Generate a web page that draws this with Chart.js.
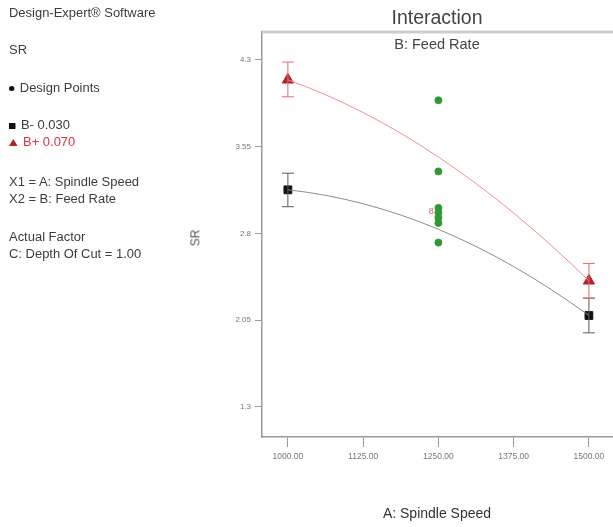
<!DOCTYPE html>
<html>
<head>
<meta charset="utf-8">
<script src="https://cdn.jsdelivr.net/npm/chart.js@4.4.0/dist/chart.umd.min.js"></script>
<style>
  body { margin: 0; background: #fff; font-family: "Liberation Sans", Arial, sans-serif; }
  #wrap { position: relative; width: 613px; height: 527px; overflow: hidden; }
  canvas { position: absolute; left: 0; top: 0; }
  .txt { position: absolute; color: #3c3c3c; font-size: 12px; white-space: nowrap; line-height: 14px; }
  .side { transform: scaleX(1.08); transform-origin: left center; }
  .red { color: #d0363a; }
  .mk { display: inline-block; margin-right: 5px; vertical-align: middle; }
  .ctr { transform: translateX(-50%); }
</style>
</head>
<body>
<div id="wrap">
  <canvas id="interChart" width="613" height="527"></canvas>

  <!-- side notes -->
  <div class="txt side" style="left:9px; top:6px;">Design-Expert® Software</div>
  <div class="txt side" style="left:9px; top:43px;">SR</div>
  <div class="txt side" style="left:9px; top:81px;"><span class="mk" style="width:5px;height:5px;border-radius:50%;background:#111;"></span>Design Points</div>
  <div class="txt side" style="left:9px; top:118px;"><span class="mk" style="width:6px;height:6px;background:#111;"></span>B- 0.030</div>
  <div class="txt side red" style="left:9px; top:135px;"><span class="mk" style="width:0;height:0;border-left:4px solid transparent;border-right:4px solid transparent;border-bottom:7px solid #b3242a;"></span>B+ 0.070</div>
  <div class="txt side" style="left:9px; top:175px;">X1 = A: Spindle Speed</div>
  <div class="txt side" style="left:9px; top:192px;">X2 = B: Feed Rate</div>
  <div class="txt side" style="left:9px; top:230px;">Actual Factor</div>
  <div class="txt side" style="left:9px; top:247px;">C: Depth Of Cut = 1.00</div>

  <!-- titles -->
  <div class="txt ctr" style="left:437px; top:6px; font-size:19.5px; line-height:22px; color:#444;">Interaction</div>
  <div class="txt ctr" style="left:437px; top:36px; font-size:14.5px; line-height:16px; color:#444;">B: Feed Rate</div>
  <div class="txt ctr" style="left:437px; top:505px; font-size:14px; line-height:16px; color:#333;">A: Spindle Speed</div>
  <div class="txt" style="left:187px; top:231px; font-size:12px; transform:rotate(-90deg); color:#555;">SR</div>
</div>

<script>
// spindle speed levels and axis ticks
const speedTicks = [1000, 1125, 1250, 1375, 1500];
const srTicks = [1.3, 2.05, 2.8, 3.55, 4.3];

// B- 0.030 (low feed rate)
const lowSpeeds = [1000, 1500];
const lowMeans = [3.176, 2.09];
const lowUpper = [3.32, 2.24];
const lowLower = [3.03, 1.94];
const lowCurve = [3.176, 2.835, 2.09];

// B+ 0.070 (high feed rate)
const highSpeeds = [1000, 1500];
const highMeans = [4.127, 2.39];
const highUpper = [4.28, 2.54];
const highLower = [3.98, 2.24];
const highCurve = [4.127, 3.46, 2.39];

const curveSpeeds = [1000, 1250, 1500];

// design points at the centre speed
const designSpeeds = [1250, 1250, 1250, 1250, 1250, 1250, 1250];
const designSR = [3.95, 3.335, 3.02, 2.98, 2.935, 2.89, 2.72];

const toXY = (xs, ys) => xs.map((x, i) => ({ x: x, y: ys[i] }));

// the model lines are quadratic in speed: set the bezier handles so the
// 3-point line follows the parabola through its points instead of a spline
const parabola = {
  id: "parabola",
  beforeDatasetDraw(chart, args) {
    const meta = args.meta;
    if (!chart.data.datasets[args.index].quadratic) return;
    const line = meta.dataset;
    line.updateControlPoints(chart.chartArea, "x");
    const [p0, p1, p2] = line.points;
    const h = (p2.x - p0.x) / 2;
    const s1 = (p2.y - p0.y) / (2 * h);
    const s0 = (-3 * p0.y + 4 * p1.y - p2.y) / (2 * h);
    const s2 = (p0.y - 4 * p1.y + 3 * p2.y) / (2 * h);
    p0.cp2x = p0.x + h / 3; p0.cp2y = p0.y + s0 * h / 3;
    p1.cp1x = p1.x - h / 3; p1.cp1y = p1.y - s1 * h / 3;
    p1.cp2x = p1.x + h / 3; p1.cp2y = p1.y + s1 * h / 3;
    p2.cp1x = p2.x - h / 3; p2.cp1y = p2.y - s2 * h / 3;
    line._path = undefined;
  }
};

// error bars + the framing line across the top
const extras = {
  id: "extras",
  afterDatasetsDraw(chart) {
    const { ctx, scales: { x, y }, chartArea } = chart;
    const bars = [
      { xs: lowSpeeds, hi: lowUpper, lo: lowLower, color: "#5a5a5a" },
      { xs: highSpeeds, hi: highUpper, lo: highLower, color: "#e46a6e" }
    ];
    ctx.save();
    bars.forEach(b => {
      ctx.strokeStyle = b.color;
      ctx.lineWidth = 1;
      b.xs.forEach((sp, i) => {
        const px = x.getPixelForValue(sp);
        const t = y.getPixelForValue(b.hi[i]);
        const btm = y.getPixelForValue(b.lo[i]);
        ctx.beginPath();
        ctx.moveTo(px, t); ctx.lineTo(px, btm);
        ctx.moveTo(px - 6, t); ctx.lineTo(px + 6, t);
        ctx.moveTo(px - 6, btm); ctx.lineTo(px + 6, btm);
        ctx.stroke();
      });
    });
    // replicate count next to the cluster
    ctx.fillStyle = "#e8575c";
    ctx.font = "9px 'Liberation Sans', Arial";
    ctx.textAlign = "center";
    ctx.textBaseline = "middle";
    ctx.fillText("8", x.getPixelForValue(1238), y.getPixelForValue(2.99));

    ctx.strokeStyle = "#cdcdcd";
    ctx.lineWidth = 3;
    ctx.beginPath();
    ctx.moveTo(chartArea.left, chartArea.top);
    ctx.lineTo(chartArea.right, chartArea.top);
    ctx.stroke();
    ctx.restore();
  }
};

new Chart(document.getElementById("interChart"), {
  type: "scatter",
  data: {
    datasets: [
      {
        type: "line",
        quadratic: true,
        data: toXY(curveSpeeds, highCurve),
        borderColor: "#f08e92",
        borderWidth: 1,
        pointRadius: 0,
        tension: 0.3,
        fill: false
      },
      {
        type: "line",
        quadratic: true,
        data: toXY(curveSpeeds, lowCurve),
        borderColor: "#8c8c8c",
        borderWidth: 1,
        pointRadius: 0,
        tension: 0.3,
        fill: false
      },
      {
        data: toXY(designSpeeds, designSR),
        backgroundColor: "#2f9a35",
        borderColor: "#2f9a35",
        pointRadius: 3.5
      },
      {
        data: toXY(highSpeeds, highMeans),
        pointStyle: "triangle",
        backgroundColor: "#b5232b",
        borderColor: "#b5232b",
        pointRadius: 6.5
      },
      {
        data: toXY(lowSpeeds, lowMeans),
        pointStyle: "rect",
        backgroundColor: "#111",
        borderColor: "#111",
        pointRadius: 5.5
      }
    ]
  },
  options: {
    responsive: false,
    animation: false,
    layout: { autoPadding: false, padding: { top: 32, left: 0, right: 0, bottom: 0 } },
    plugins: { legend: { display: false }, tooltip: { enabled: false } },
    scales: {
      x: {
        type: "linear",
        min: 957,
        max: 1540,
        afterFit: s => { s.height = 90; s.paddingLeft = 0; s.paddingRight = 0; },
        afterBuildTicks: s => { s.ticks = speedTicks.map(v => ({ value: v })); },
        ticks: {
          padding: 5,
          color: "#777",
          font: { size: 8.5, family: "'Liberation Sans', Arial" },
          maxRotation: 0,
          callback: v => Number(v).toFixed(2)
        },
        grid: { drawOnChartArea: false, drawTicks: true, tickLength: 10, color: "#999" },
        border: { display: true, color: "#9a9a9a", width: 1.5 }
      },
      y: {
        min: 1.04,
        max: 4.54,
        afterFit: s => { s.width = 262; },
        afterBuildTicks: s => { s.ticks = srTicks.map(v => ({ value: v })); },
        ticks: {
          padding: 4,
          color: "#777",
          font: { size: 8, family: "'Liberation Sans', Arial" },
          callback: v => String(v)
        },
        grid: { drawOnChartArea: false, drawTicks: true, tickLength: 7, color: "#999" },
        border: { display: true, color: "#9a9a9a", width: 1.5 }
      }
    }
  },
  plugins: [parabola, extras]
});
</script>
</body>
</html>
